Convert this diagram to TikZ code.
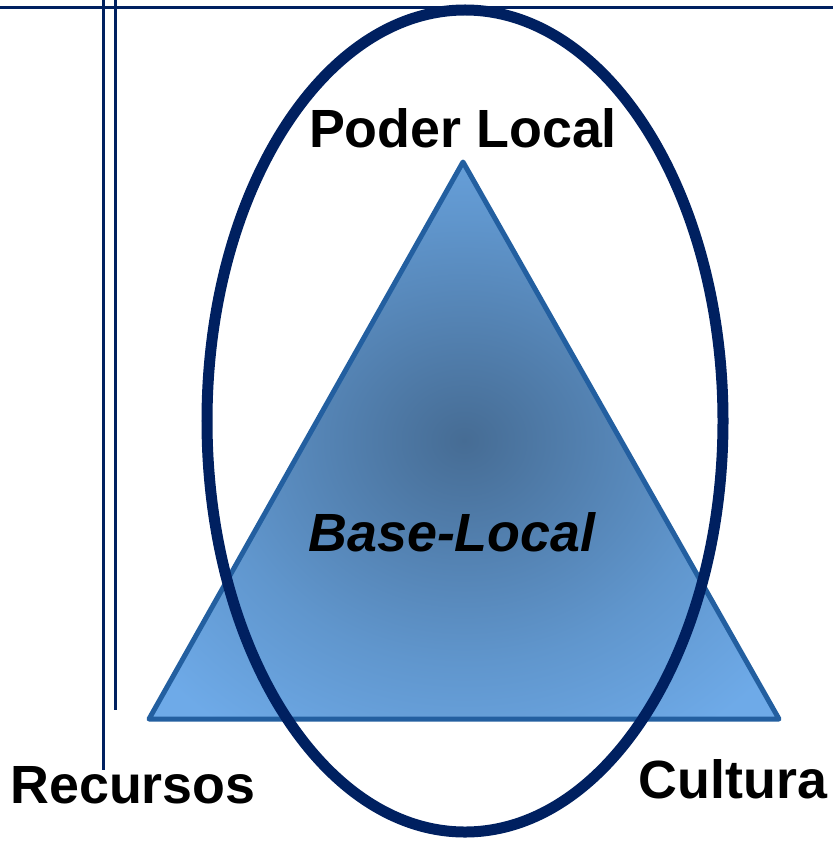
\documentclass[tikz,border=0pt]{standalone}
\usepackage{xcolor}
\usepackage{fontspec}
\setmainfont{Liberation Sans}
\usepackage{tikz}
\definecolor{navy}{RGB}{0,32,96}
\definecolor{triedge}{RGB}{35,95,160}
\definecolor{tridark}{RGB}{70,108,148}
\definecolor{trimid}{RGB}{96,150,205}
\definecolor{trilight}{RGB}{110,170,232}
\pgfdeclareradialshading{baseshade}{\pgfpoint{0bp}{0bp}}{color(0bp)=(tridark); color(20bp)=(trimid); color(32bp)=(trilight); color(50bp)=(trilight)}

\begin{document}
\begin{tikzpicture}[x=1bp, y=-1bp,
	caption/.style={font=\fontsize{54}{60}\selectfont\bfseries, inner sep=0pt, anchor=base}]
	\useasboundingbox (0,0) rectangle (833,842);

	\coordinate (apex) at (463,162);
	\coordinate (left) at (149,719);
	\coordinate (right) at (779,719);

	\shade[shading=baseshade] (apex) -- (right) -- (left) -- cycle;
	\draw[triedge, line width=5bp, line join=round] (apex) -- (right) -- (left) -- cycle;

	\draw[navy, line width=3bp] (0,7) -- (833,7);
	\draw[navy, line width=3bp] (103,0) -- (103,770);
	\draw[navy, line width=3bp] (115,0) -- (115,710);

	\draw[navy, line width=11bp] (465,421) ellipse [x radius=258bp, y radius=411bp];

	\node[caption] (poder) at (463,147) {Poder Local};
	\node[caption] (base) at (452,551) {\itshape Base-Local};
	\node[caption] (recursos) at (133,803) {Recursos};
	\node[caption] (cultura) at (733,798) {Cultura};
\end{tikzpicture}
\end{document}
